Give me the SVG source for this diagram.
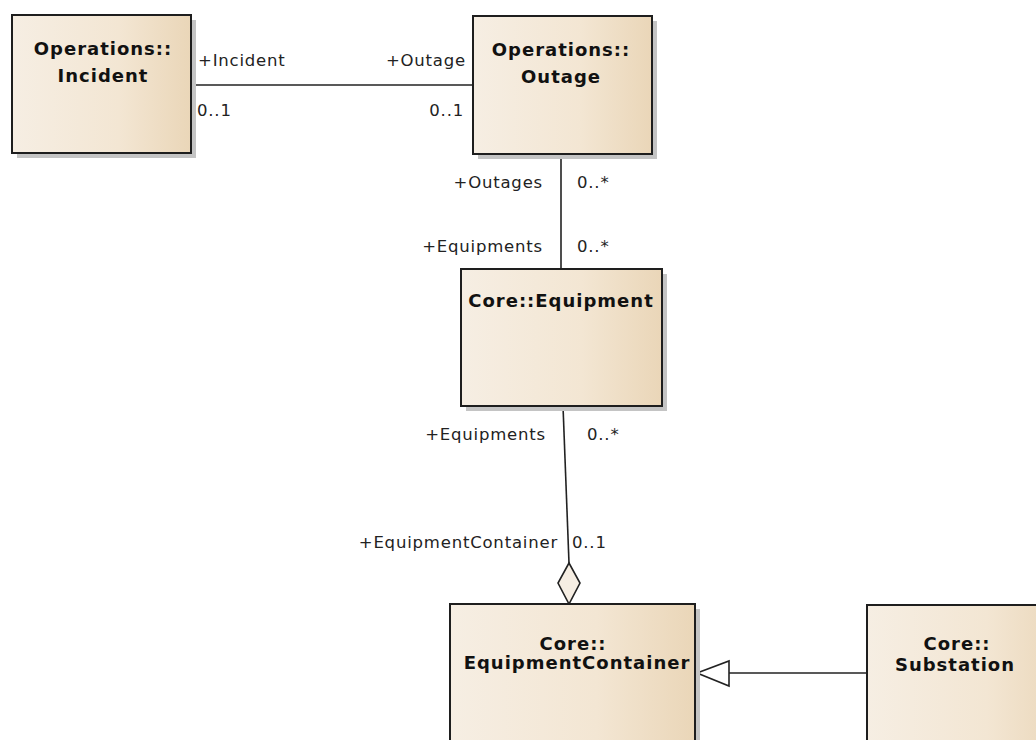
<svg xmlns="http://www.w3.org/2000/svg" width="1036" height="740" viewBox="0 0 1036 740">
  <defs>
    <linearGradient id="fill" x1="0" y1="0" x2="1" y2="0">
      <stop offset="0" stop-color="#f6eee3"/>
      <stop offset="0.6" stop-color="#f3e6d3"/>
      <stop offset="1" stop-color="#ead6b8"/>
    </linearGradient>
    <style>
      .box { fill: url(#fill); stroke: #1e1e1e; stroke-width: 2; }
      .shadow { fill: #c4c4c4; }
      .title { font-family: "DejaVu Sans", sans-serif; font-weight: bold; font-size: 18px; letter-spacing: 1px; fill: #111; text-anchor: middle; }
      .lbl { font-family: "DejaVu Sans", sans-serif; font-size: 16.5px; letter-spacing: 0.8px; fill: #222; }
      .end { text-anchor: end; }
      .conn { stroke: #222; stroke-width: 1.6; fill: none; }
    </style>
  </defs>
  <rect width="1036" height="740" fill="#ffffff"/>

  <g id="connectors">
    <line class="conn" x1="191" y1="85" x2="473" y2="85"/>
    <line class="conn" x1="561" y1="154" x2="561" y2="269"/>
    <line class="conn" x1="563" y1="406" x2="569" y2="563"/>
    <polygon class="conn" points="569,563 558,583 569,604 580,583" style="fill:#f6eee3"/>
    <line class="conn" x1="729" y1="673" x2="867" y2="673"/>
    <polygon class="conn" points="697,673 729,661 729,686" style="fill:#ffffff"/>
    <text class="lbl" x="198" y="66">+Incident</text>
    <text class="lbl" x="197" y="116">0..1</text>
    <text class="lbl end" x="466" y="66">+Outage</text>
    <text class="lbl end" x="464" y="116">0..1</text>
    <text class="lbl end" x="543" y="188">+Outages</text>
    <text class="lbl" x="577" y="188">0..*</text>
    <text class="lbl end" x="543" y="252">+Equipments</text>
    <text class="lbl" x="577" y="252">0..*</text>
    <text class="lbl end" x="546" y="440">+Equipments</text>
    <text class="lbl" x="587" y="440">0..*</text>
    <text class="lbl end" x="558" y="548">+EquipmentContainer</text>
    <text class="lbl" x="572" y="548">0..1</text>
  </g>

  <g id="incident">
    <rect class="shadow" x="17" y="20" width="179" height="138"/>
    <rect class="box" x="12" y="15" width="179" height="138"/>
    <text class="title" x="103" y="55">Operations::</text>
    <text class="title" x="103" y="82">Incident</text>
  </g>

  <g id="outage">
    <rect class="shadow" x="478" y="21" width="179" height="138"/>
    <rect class="box" x="473" y="16" width="179" height="138"/>
    <text class="title" x="561" y="56">Operations::</text>
    <text class="title" x="561" y="83">Outage</text>
  </g>

  <g id="equipment">
    <rect class="shadow" x="466" y="274" width="201" height="137"/>
    <rect class="box" x="461" y="269" width="201" height="137"/>
    <text class="title" x="561" y="307">Core::Equipment</text>
  </g>

  <g id="equipmentcontainer">
    <rect class="shadow" x="455" y="609" width="245" height="160"/>
    <rect class="box" x="450" y="604" width="245" height="160"/>
    <text class="title" x="573" y="650">Core::</text>
    <text class="title" x="577" y="669">EquipmentContainer</text>
  </g>

  <g id="substation">
    <rect class="box" x="867" y="605" width="200" height="160"/>
    <text class="title" x="957" y="650">Core::</text>
    <text class="title" x="955" y="671">Substation</text>
  </g>
</svg>
